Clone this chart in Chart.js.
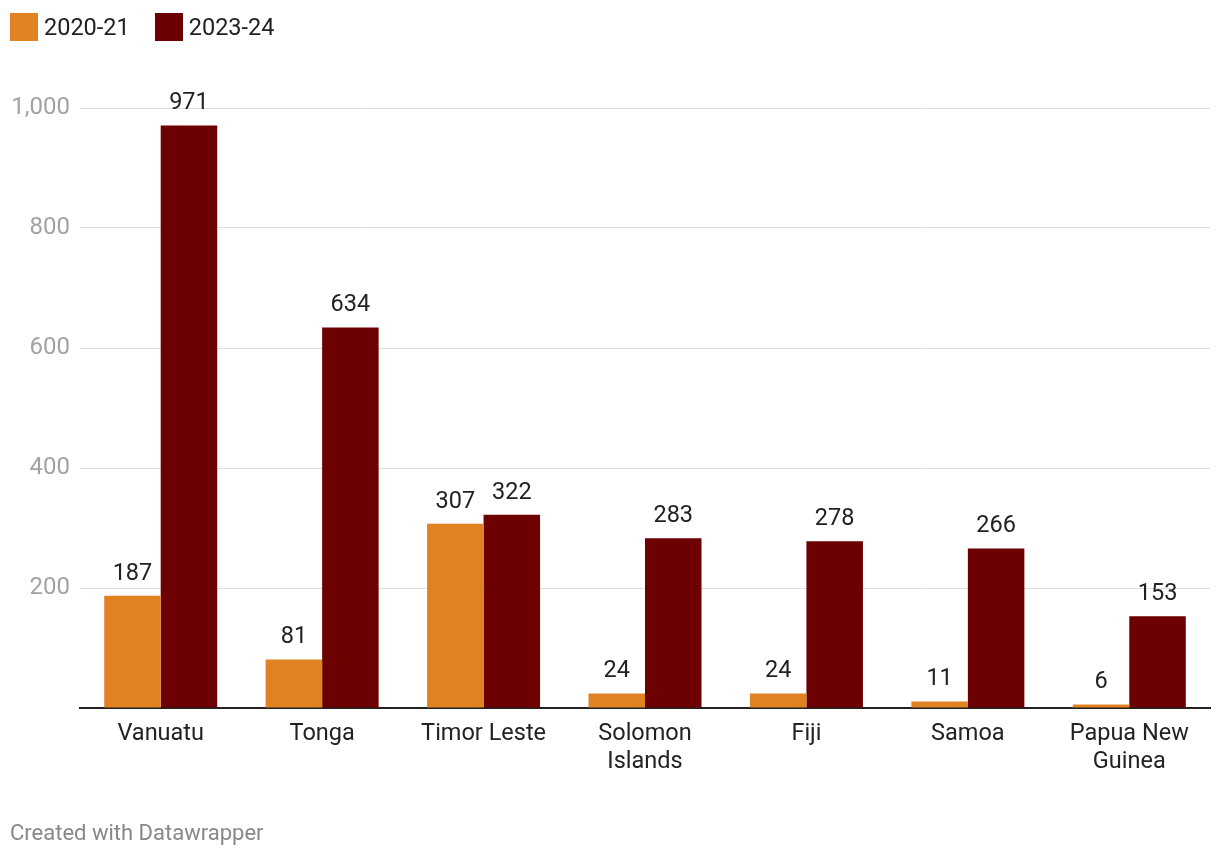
<!DOCTYPE html>
<html>
<head>
<meta charset="utf-8">
<script src="https://cdn.jsdelivr.net/npm/chart.js@4"></script>
<style>
  body { margin: 0; background: #fff; font-family: Roboto, sans-serif; }
  #wrap { position: absolute; left: 0; top: 0; width: 1220px; height: 856px; }
  .legend { position: absolute; left: 10px; top: 13px; display: flex; font-size: 23.5px; color: #222; }
  .legend span.item { display: flex; align-items: center; margin-right: 25px; }
  .legend span.sw { width: 28px; height: 28px; margin-right: 6px; display: inline-block; }
  .foot { position: absolute; left: 10px; top: 820px; font-size: 22px; color: #888; }
</style>
</head>
<body>
<div id="wrap"><canvas id="chart" width="1220" height="856"></canvas></div>
<div class="legend">
  <span class="item"><span class="sw" style="background:#e08122"></span>2020-21</span>
  <span class="item"><span class="sw" style="background:#6d0000"></span>2023-24</span>
</div>
<div class="foot">Created with Datawrapper</div>
<script>
// chart data
const countries = ['Vanuatu', 'Tonga', 'Timor Leste', ['Solomon', 'Islands'], 'Fiji', 'Samoa', ['Papua New', 'Guinea']];
const values2021 = [187, 81, 307, 24, 24, 11, 6];
const values2324 = [971, 634, 322, 283, 278, 266, 153];
const yTicks = [200, 400, 600, 800, 1000];

// draws the value above each bar
const barLabels = {
    id: 'barLabels',
    afterDatasetsDraw(chart) {
        const ctx = chart.ctx;
        ctx.save();
        ctx.font = '23.5px Roboto';
        ctx.fillStyle = '#222';
        ctx.textAlign = 'center';
        ctx.textBaseline = 'middle';
        chart.data.datasets.forEach((ds, i) => {
            chart.getDatasetMeta(i).data.forEach((bar, j) => {
                ctx.fillText(ds.data[j], bar.x, bar.y - 22);
            });
        });
        ctx.restore();
    }
};

new Chart(document.getElementById('chart'), {
    type: 'bar',
    data: {
        labels: countries,
        datasets: [
            { label: '2020-21', data: values2021, backgroundColor: '#e08122' },
            { label: '2023-24', data: values2324, backgroundColor: '#6d0000' }
        ]
    },
    options: {
        responsive: false,
        animation: false,
        layout: { padding: { left: 0, right: 10, top: 108, bottom: 0 } },
        datasets: { bar: { categoryPercentage: 0.7, barPercentage: 1.0 } },
        plugins: { legend: { display: false }, tooltip: { enabled: false } },
        scales: {
            x: {
                grid: { display: false, drawTicks: false },
                border: { display: true, color: '#222', width: 2 },
                ticks: { color: '#222', font: { family: 'Roboto', size: 23.5, lineHeight: 1.19 }, padding: 12, maxRotation: 0, autoSkip: false },
                afterFit(scale) { scale.height = 148; }
            },
            y: {
                min: 0,
                max: 1000,
                afterBuildTicks(scale) { scale.ticks = [0].concat(yTicks).map(v => ({ value: v })); },
                grid: { color: ctx => ctx.tick.value === 0 ? 'rgba(0,0,0,0)' : '#dedede', lineWidth: 1, drawTicks: false },
                border: { display: false },
                ticks: {
                    color: '#a3a3a3',
                    font: { family: 'Roboto', size: 24 },
                    padding: 10,
                    callback: v => v === 0 ? '' : v.toLocaleString('en-US')
                },
                afterFit(scale) { scale.width = 80; }
            }
        }
    },
    plugins: [barLabels]
});
</script>
</body>
</html>
